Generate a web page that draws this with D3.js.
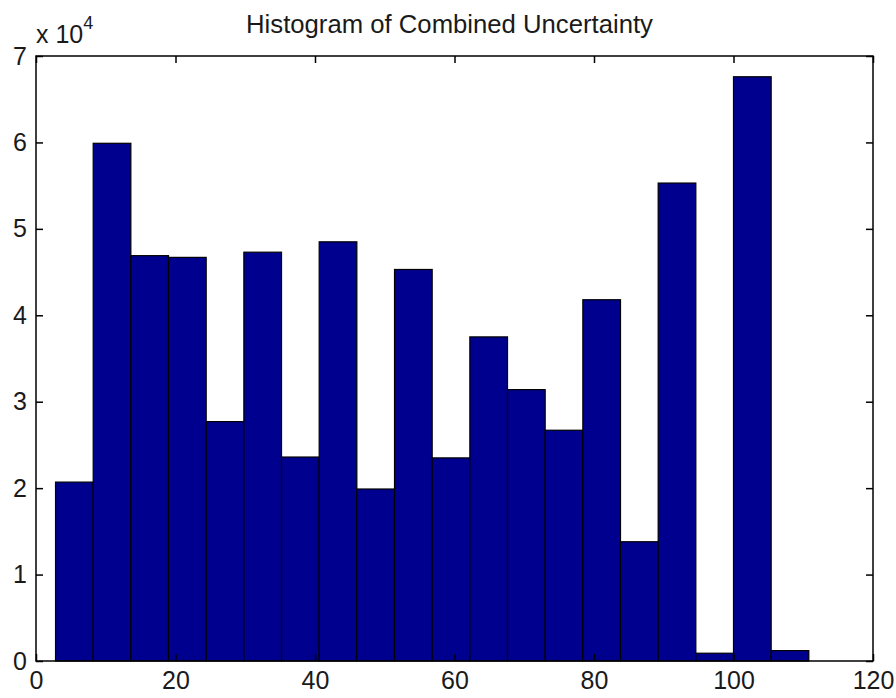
<!DOCTYPE html>
<html>
<head>
<meta charset="utf-8">
<script src="https://cdn.jsdelivr.net/npm/d3@7"></script>
<style>
  body { margin: 0; background: #fff; }
  text { font-family: "Liberation Sans", Arial, sans-serif; fill: #1a1a1a; }
</style>
</head>
<body>
<div id="chart"></div>
<script>
// bin edges of the 20 histogram bins (x units)
var binEdges = [2.8, 8.2, 13.6, 19.0, 24.4, 29.8, 35.2, 40.6, 46.0, 51.4, 56.8,
                62.2, 67.6, 73.0, 78.4, 83.8, 89.2, 94.6, 100.0, 105.4, 110.8];
// counts per bin, in units of 10^4
var counts = [2.07, 5.99, 4.69, 4.67, 2.77, 4.73, 2.36, 4.85, 1.99, 4.53,
              2.35, 3.75, 3.14, 2.67, 4.18, 1.38, 5.53, 0.09, 6.76, 0.12];
var xTicks = [0, 20, 40, 60, 80, 100, 120];
var yTicks = [0, 1, 2, 3, 4, 5, 6, 7];
var title = "Histogram of Combined Uncertainty";

var width = 896, height = 698;
var margin = {top: 56, right: 23, bottom: 37, left: 36};
var w = width - margin.left - margin.right;
var h = height - margin.top - margin.bottom;

var svg = d3.select("#chart").append("svg")
    .attr("width", width)
    .attr("height", height);

var g = svg.append("g")
    .attr("transform", "translate(" + margin.left + "," + margin.top + ")");

var x = d3.scaleLinear().domain([0, 120]).range([0, w]);
var y = d3.scaleLinear().domain([0, 7]).range([h, 0]);

var bins = counts.map(function (c, i) {
    return {x0: binEdges[i], x1: binEdges[i + 1], value: c};
});

// bars
g.selectAll("rect.bar")
    .data(bins)
    .enter()
    .append("rect")
    .attr("class", "bar")
    .attr("x", function (d) { return x(d.x0); })
    .attr("y", function (d) { return y(d.value); })
    .attr("width", function (d) { return x(d.x1) - x(d.x0); })
    .attr("height", function (d) { return y(0) - y(d.value); })
    .style("fill", "#00008f")
    .style("stroke", "#000")
    .style("stroke-width", 1.2);

// axes: ticks inside, mirrored on top and right
var tickLen = 7;
var xBottom = d3.axisBottom(x).tickValues(xTicks).tickSize(-tickLen).tickPadding(10);
var xTop = d3.axisTop(x).tickValues(xTicks).tickSize(-tickLen).tickFormat("");
var yLeft = d3.axisLeft(y).tickValues(yTicks).tickSize(-tickLen).tickPadding(9)
    .tickFormat(d3.format("d"));
var yRight = d3.axisRight(y).tickValues(yTicks).tickSize(-tickLen).tickFormat("");

function style(sel) {
    sel.select(".domain").remove();
    sel.selectAll("line").attr("stroke", "#000").attr("stroke-width", 1.5);
    sel.selectAll("text").style("font-size", "25px").attr("fill", "#1a1a1a");
}

g.append("g").attr("transform", "translate(0," + h + ")").call(xBottom).call(style);
g.append("g").call(xTop).call(style);
g.append("g").call(yLeft).call(style);
g.append("g").attr("transform", "translate(" + w + ",0)").call(yRight).call(style);

// box
g.append("rect")
    .attr("x", 0).attr("y", 0)
    .attr("width", w).attr("height", h)
    .style("fill", "none")
    .style("stroke", "#000")
    .style("stroke-width", 1.5);

// exponent label
var expo = svg.append("text")
    .attr("x", margin.left)
    .attr("y", 43)
    .style("font-size", "25px");
expo.append("tspan").text("x 10");
expo.append("tspan").attr("dy", -14).style("font-size", "18px").text("4");

// title
svg.append("text")
    .attr("x", margin.left + w / 2 - 5)
    .attr("y", 33)
    .attr("text-anchor", "middle")
    .style("font-size", "25.7px")
    .text(title);
</script>
</body>
</html>
